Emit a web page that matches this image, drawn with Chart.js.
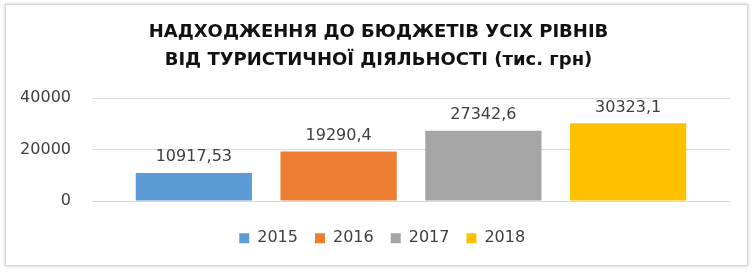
<!DOCTYPE html>
<html>
<head>
<meta charset="utf-8">
<script src="https://cdn.jsdelivr.net/npm/chart.js@4/dist/chart.umd.min.js"></script>
<style>
  html, body { margin: 0; padding: 0; background: #fff; }
  #frame { position: absolute; left: 5px; top: 4px; width: 743px; height: 262px; box-sizing: border-box;
           border: 1px solid #d6d6d6; box-shadow: 0 0 3px rgba(0,0,0,0.25); background: #fff; }
  #wrap { position: absolute; left: 0; top: 0; width: 756px; height: 275px; }
</style>
</head>
<body>
<div id="frame"></div>
<div id="wrap"><canvas id="c" width="756" height="275"></canvas></div>
<script>
const titleLines = ['НАДХОДЖЕННЯ ДО БЮДЖЕТІВ УСІХ РІВНІВ', 'ВІД ТУРИСТИЧНОЇ ДІЯЛЬНОСТІ (тис. грн)'];
const categories = [''];
const years = ['2015', '2016', '2017', '2018'];
const values = [10917.53, 19290.4, 27342.6, 30323.1];
const colors = ['#5b9bd5', '#ed7d31', '#a5a5a5', '#ffc000'];
const yTicks = [0, 20000, 40000];

const textColor = '#404040';
const numFont = { family: 'DejaVu Sans', size: 16 };

const labelPlugin = {
  id: 'barLabels',
  afterLayout(chart) {
    // centre the legend row and title like the original
    const lg = chart.legend;
    if (lg) { lg.left += 13.2; lg.right += 13.2; }
    const tb = chart.titleBlock;
    if (tb) { tb.left += 9.5; tb.right += 9.5; }
  },
  afterDatasetsDraw(chart) {
    const ctx = chart.ctx;
    ctx.save();
    ctx.font = '16px "DejaVu Sans"';
    ctx.fillStyle = textColor;
    ctx.textAlign = 'center';
    ctx.textBaseline = 'alphabetic';
    chart.data.datasets.forEach((ds, i) => {
      const bar = chart.getDatasetMeta(i).data[0];
      const txt = String(ds.data[0]).replace('.', ',');
      ctx.fillText(txt, bar.x, bar.y - 11.5);
    });
    ctx.restore();
  }
};

new Chart(document.getElementById('c'), {
  type: 'bar',
  data: {
    labels: categories,
    datasets: years.map((y, i) => ({
      label: y,
      data: [values[i]],
      backgroundColor: colors[i],
      borderWidth: 0,
      categoryPercentage: 0.9076,
      barPercentage: 0.803
    }))
  },
  options: {
    responsive: false,
    animation: false,
    layout: { padding: { left: 8, right: 26, top: 0, bottom: 18.7 } },
    plugins: {
      title: {
        display: true,
        text: titleLines,
        color: '#111',
        font: { family: 'DejaVu Sans', size: 18, weight: 'bold', lineHeight: 28 / 18 },
        padding: { top: 18, bottom: 24.3 }
      },
      legend: {
        position: 'bottom',
        labels: {
          boxWidth: 10, boxHeight: 10, padding: 17,
          color: textColor, font: numFont
        }
      },
      tooltip: { enabled: false }
    },
    scales: {
      x: {
        display: true,
        ticks: { display: false },
        grid: { display: false },
        border: { display: false },
        afterFit: s => { s.height = 12.3; }
      },
      y: {
        min: 0, max: 40000,
        afterBuildTicks: s => { s.ticks = yTicks.map(v => ({ value: v })); },
        ticks: { color: textColor, font: numFont, padding: 21, callback: v => String(v) },
        grid: { color: '#d9d9d9', drawTicks: false, lineWidth: 1 },
        border: { display: false },
        afterFit: s => { s.width = 84; }
      }
    }
  },
  plugins: [labelPlugin]
});
</script>
</body>
</html>
